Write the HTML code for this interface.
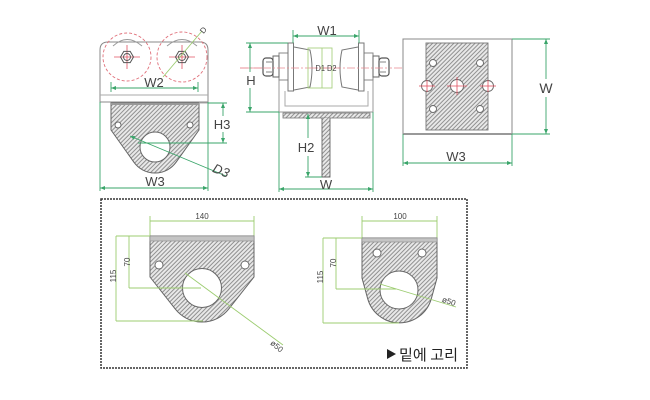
<!DOCTYPE html>
<html>
<head>
<meta charset="utf-8">
<style>
html,body{margin:0;padding:0;background:#fff;}
svg{display:block;}
text{font-family:"Liberation Sans","Noto Sans CJK KR",sans-serif;fill:#444;}
</style>
</head>
<body>
<svg width="650" height="400" viewBox="0 0 650 400" xmlns="http://www.w3.org/2000/svg">
<defs>
  <pattern id="h" width="3" height="3" patternUnits="userSpaceOnUse" patternTransform="rotate(45)">
    <rect width="3" height="3" fill="#e8e8e8"/>
    <line x1="0.5" y1="0" x2="0.5" y2="3" stroke="#868686" stroke-width="0.9"/>
  </pattern>
  <marker id="a" markerWidth="5" markerHeight="4" refX="5" refY="2" orient="auto-start-reverse" markerUnits="userSpaceOnUse">
    <path d="M0,0 L5,2 L0,4 Z" fill="#3aa56a"/>
  </marker>
</defs>

<!-- ================= TOP-LEFT VIEW ================= -->
<g fill="none" stroke-linecap="butt">
  <path d="M100,102 L100,50 Q100,42 108,42 L200,42 Q208,42 208,50 L208,102 Z" stroke="#8a8a8a" stroke-width="1"/>
  <line x1="100" y1="95" x2="208" y2="95" stroke="#aaa" stroke-width="1"/>
  <path d="M113,46 Q127,33 142,46" stroke="#999" stroke-width="1"/>
  <path d="M167,46 Q182,33 197,46" stroke="#999" stroke-width="1"/>
  <circle cx="127" cy="57" r="24" stroke="#e0707a" stroke-width="0.9" stroke-dasharray="3 2"/>
  <circle cx="182" cy="57" r="25" stroke="#e0707a" stroke-width="0.9" stroke-dasharray="3 2"/>
  <line x1="114" y1="57" x2="140" y2="57" stroke="#e05060" stroke-width="0.8"/>
  <line x1="127" y1="45" x2="127" y2="69" stroke="#e05060" stroke-width="0.8"/>
  <line x1="169" y1="57" x2="195" y2="57" stroke="#e05060" stroke-width="0.8"/>
  <line x1="182" y1="45" x2="182" y2="69" stroke="#e05060" stroke-width="0.8"/>
  <polygon points="133.5,57 130.2,62.6 123.8,62.6 120.5,57 123.8,51.4 130.2,51.4" stroke="#555" stroke-width="1"/>
  <circle cx="127" cy="57" r="3.5" stroke="#555" stroke-width="0.9"/>
  <polygon points="188.5,57 185.2,62.6 178.8,62.6 175.5,57 178.8,51.4 185.2,51.4" stroke="#555" stroke-width="1"/>
  <circle cx="182" cy="57" r="3.5" stroke="#555" stroke-width="0.9"/>
  <line x1="163" y1="77" x2="202" y2="31" stroke="#9ccc70" stroke-width="0.9"/>
  <line x1="111" y1="82" x2="111" y2="92" stroke="#3aa56a" stroke-width="0.9"/>
  <line x1="198" y1="82" x2="198" y2="92" stroke="#3aa56a" stroke-width="0.9"/>
  <line x1="111" y1="88" x2="198" y2="88" stroke="#3aa56a" stroke-width="0.9" marker-start="url(#a)" marker-end="url(#a)"/>
  <path d="M111,103 L199,103 L199,130 L176.2,162.1 A26,26 0 0 1 133.8,162.1 L111,130 Z" fill="url(#h)" stroke="#666" stroke-width="1"/>
  <line x1="111" y1="104" x2="199" y2="104" stroke="#999" stroke-width="2"/>
  <circle cx="155" cy="147" r="15" fill="#fff" stroke="#666" stroke-width="1"/>
  <circle cx="118" cy="125" r="3" fill="#fff" stroke="#666" stroke-width="0.9"/>
  <circle cx="190" cy="125" r="3" fill="#fff" stroke="#666" stroke-width="0.9"/>
  <line x1="199" y1="103" x2="208" y2="103" stroke="#aaa" stroke-width="1"/>
  <line x1="208" y1="103" x2="227" y2="103" stroke="#3aa56a" stroke-width="0.9"/>
  <line x1="138" y1="143" x2="227" y2="143" stroke="#3aa56a" stroke-width="0.9"/>
  <line x1="223" y1="103" x2="223" y2="116" stroke="#3aa56a" stroke-width="0.9" marker-start="url(#a)"/>
  <line x1="223" y1="132" x2="223" y2="143" stroke="#3aa56a" stroke-width="0.9" marker-end="url(#a)"/>
  <line x1="130" y1="136" x2="226" y2="176" stroke="#3aa56a" stroke-width="0.9" marker-start="url(#a)"/>
  <line x1="100" y1="102" x2="100" y2="191" stroke="#3aa56a" stroke-width="0.9"/>
  <line x1="208" y1="102" x2="208" y2="191" stroke="#3aa56a" stroke-width="0.9"/>
  <line x1="100" y1="188" x2="208" y2="188" stroke="#3aa56a" stroke-width="0.9" marker-start="url(#a)" marker-end="url(#a)"/>
</g>
<text x="154" y="87" font-size="13" text-anchor="middle">W2</text>
<text x="222" y="129" font-size="13" text-anchor="middle">H3</text>
<text x="155" y="186" font-size="13" text-anchor="middle">W3</text>
<text x="221" y="175" font-size="13" font-style="italic" text-anchor="middle" transform="rotate(22 221 171)">D3</text>
<text x="203" y="33" font-size="8" text-anchor="middle" transform="rotate(-50 203 30)">D</text>

<!-- ================= TOP-MIDDLE VIEW ================= -->
<g fill="none">
  <line x1="240" y1="68" x2="402" y2="68" stroke="#e88890" stroke-width="0.8" stroke-dasharray="8 2 2 2"/>
  <path d="M279,80 L279,112 L373,112 L373,80" stroke="#999" stroke-width="1"/>
  <path d="M285,91 L285,106 L368,106 L368,91" stroke="#aaa" stroke-width="1"/>
  <rect x="279" y="53" width="9" height="27" stroke="#888" stroke-width="1" fill="#fff"/>
  <rect x="364" y="53" width="9" height="27" stroke="#888" stroke-width="1" fill="#fff"/>
  <rect x="288" y="43" width="5.5" height="48" stroke="#777" stroke-width="1" fill="#fff"/>
  <rect x="358.5" y="43" width="5.5" height="48" stroke="#777" stroke-width="1" fill="#fff"/>
  <path d="M294,47 L310,50 Q314,68 310,87 L294,90" stroke="#777" stroke-width="1" fill="#fff"/>
  <path d="M358,47 L342,50 Q338,68 342,87 L358,90" stroke="#777" stroke-width="1" fill="#fff"/>
  <rect x="273" y="56" width="6" height="21" stroke="#666" stroke-width="1" fill="#fff"/>
  <rect x="263" y="58" width="10" height="18" rx="3" stroke="#555" stroke-width="1.2" fill="#fff"/>
  <line x1="266" y1="62" x2="272" y2="62" stroke="#666" stroke-width="0.8"/>
  <line x1="266" y1="72" x2="272" y2="72" stroke="#666" stroke-width="0.8"/>
  <rect x="373" y="56" width="6" height="21" stroke="#666" stroke-width="1" fill="#fff"/>
  <rect x="379" y="58" width="10" height="18" rx="3" stroke="#555" stroke-width="1.2" fill="#fff"/>
  <line x1="380" y1="62" x2="386" y2="62" stroke="#666" stroke-width="0.8"/>
  <line x1="380" y1="72" x2="386" y2="72" stroke="#666" stroke-width="0.8"/>
  <line x1="240" y1="68" x2="262" y2="68" stroke="#e88890" stroke-width="0.8"/>
  <line x1="263" y1="68" x2="389" y2="68" stroke="#e88890" stroke-width="0.7" stroke-dasharray="8 2 2 2"/>
  <rect x="308" y="48" width="24" height="40" stroke="#a8d080" stroke-width="0.9"/>
  <line x1="322" y1="48" x2="322" y2="88" stroke="#a8d080" stroke-width="0.9"/>
  <line x1="293" y1="30" x2="293" y2="43" stroke="#3aa56a" stroke-width="0.9"/>
  <line x1="359" y1="30" x2="359" y2="43" stroke="#3aa56a" stroke-width="0.9"/>
  <line x1="293" y1="36" x2="359" y2="36" stroke="#3aa56a" stroke-width="0.9" marker-start="url(#a)" marker-end="url(#a)"/>
  <line x1="246" y1="43" x2="288" y2="43" stroke="#3aa56a" stroke-width="0.9"/>
  <line x1="246" y1="112" x2="279" y2="112" stroke="#3aa56a" stroke-width="0.9"/>
  <line x1="250" y1="43" x2="250" y2="72" stroke="#3aa56a" stroke-width="0.9" marker-start="url(#a)"/>
  <line x1="250" y1="88" x2="250" y2="112" stroke="#3aa56a" stroke-width="0.9" marker-end="url(#a)"/>
  <rect x="283" y="113" width="87" height="5" fill="url(#h)" stroke="#777" stroke-width="0.8"/>
  <path d="M322,118 L322,177 L330,177 L330,118" fill="url(#h)" stroke="#666" stroke-width="0.9"/>
  <line x1="308" y1="114" x2="308" y2="138" stroke="#3aa56a" stroke-width="0.9" marker-start="url(#a)"/>
  <line x1="308" y1="156" x2="308" y2="177" stroke="#3aa56a" stroke-width="0.9" marker-end="url(#a)"/>
  <line x1="305" y1="177" x2="322" y2="177" stroke="#3aa56a" stroke-width="0.9"/>
  <line x1="279" y1="112" x2="279" y2="192" stroke="#3aa56a" stroke-width="0.9"/>
  <line x1="373" y1="112" x2="373" y2="192" stroke="#3aa56a" stroke-width="0.9"/>
  <line x1="279" y1="189" x2="373" y2="189" stroke="#3aa56a" stroke-width="0.9" marker-start="url(#a)" marker-end="url(#a)"/>
</g>
<text x="327" y="35" font-size="13" text-anchor="middle">W1</text>
<text x="251" y="85" font-size="13" text-anchor="middle">H</text>
<text x="306" y="152" font-size="13" text-anchor="middle">H2</text>
<text x="326" y="189" font-size="13" text-anchor="middle">W</text>
<text x="326" y="71" font-size="8.5" text-anchor="middle" textLength="21" lengthAdjust="spacingAndGlyphs">D1 D2</text>

<!-- ================= TOP-RIGHT VIEW ================= -->
<g fill="none">
  <rect x="403" y="39" width="109" height="95" stroke="#888" stroke-width="1"/>
  <line x1="403" y1="134" x2="512" y2="134" stroke="#999" stroke-width="2"/>
  <rect x="426" y="43" width="62" height="87" fill="url(#h)" stroke="#777" stroke-width="0.9"/>
  <circle cx="433" cy="63" r="3.5" fill="#fff" stroke="#666" stroke-width="0.9"/>
  <circle cx="480" cy="63" r="3.5" fill="#fff" stroke="#666" stroke-width="0.9"/>
  <circle cx="433" cy="109" r="3.5" fill="#fff" stroke="#666" stroke-width="0.9"/>
  <circle cx="480" cy="109" r="3.5" fill="#fff" stroke="#666" stroke-width="0.9"/>
  <circle cx="427" cy="86" r="5.5" fill="#fff" stroke="#666" stroke-width="0.9"/>
  <circle cx="488" cy="86" r="5.5" fill="#fff" stroke="#666" stroke-width="0.9"/>
  <circle cx="457" cy="86" r="6.5" fill="#fff" stroke="#666" stroke-width="0.9"/>
  <g stroke="#e05060" stroke-width="0.8">
    <line x1="419" y1="86" x2="435" y2="86"/><line x1="427" y1="80" x2="427" y2="92"/>
    <line x1="480" y1="86" x2="496" y2="86"/><line x1="488" y1="80" x2="488" y2="92"/>
    <line x1="447" y1="86" x2="467" y2="86"/><line x1="457" y1="77" x2="457" y2="95"/>
  </g>
  <line x1="512" y1="39" x2="550" y2="39" stroke="#3aa56a" stroke-width="0.9"/>
  <line x1="512" y1="134" x2="550" y2="134" stroke="#3aa56a" stroke-width="0.9"/>
  <line x1="546" y1="39" x2="546" y2="79" stroke="#3aa56a" stroke-width="0.9" marker-start="url(#a)"/>
  <line x1="546" y1="97" x2="546" y2="134" stroke="#3aa56a" stroke-width="0.9" marker-end="url(#a)"/>
  <line x1="403" y1="134" x2="403" y2="166" stroke="#3aa56a" stroke-width="0.9"/>
  <line x1="512" y1="134" x2="512" y2="166" stroke="#3aa56a" stroke-width="0.9"/>
  <line x1="403" y1="163" x2="512" y2="163" stroke="#3aa56a" stroke-width="0.9" marker-start="url(#a)" marker-end="url(#a)"/>
</g>
<text x="546" y="93" font-size="14" text-anchor="middle">W</text>
<text x="456" y="161" font-size="13" text-anchor="middle">W3</text>

<!-- ================= DASHED BOX ================= -->
<rect x="101" y="199" width="366" height="169" fill="none" stroke="#333" stroke-width="1.5" stroke-dasharray="2 1"/>

<!-- ================= BOTTOM-LEFT LUG ================= -->
<g fill="none">
  <line x1="150" y1="216" x2="150" y2="236" stroke="#9ccc70" stroke-width="0.9"/>
  <line x1="254" y1="216" x2="254" y2="236" stroke="#9ccc70" stroke-width="0.9"/>
  <line x1="150" y1="221" x2="254" y2="221" stroke="#9ccc70" stroke-width="0.9"/>
  <path d="M150,236 L254,236 L254,277 L228.7,309.1 A34,34 0 0 1 175.3,309.1 L150,277 Z" fill="url(#h)" stroke="#666" stroke-width="1"/>
  <rect x="150" y="236" width="104" height="5" fill="#c4c4c4" stroke="#888" stroke-width="0.6"/>
  <circle cx="202" cy="288" r="19.5" fill="#fff" stroke="#666" stroke-width="1"/>
  <circle cx="159" cy="265" r="4" fill="#fff" stroke="#666" stroke-width="0.9"/>
  <circle cx="245" cy="265" r="4" fill="#fff" stroke="#666" stroke-width="0.9"/>
  <line x1="116" y1="236" x2="150" y2="236" stroke="#9ccc70" stroke-width="0.9"/>
  <line x1="116" y1="236" x2="116" y2="321" stroke="#9ccc70" stroke-width="0.9"/>
  <line x1="116" y1="321" x2="203" y2="321" stroke="#9ccc70" stroke-width="0.9"/>
  <line x1="129" y1="236" x2="129" y2="288" stroke="#9ccc70" stroke-width="0.9"/>
  <line x1="129" y1="288" x2="201" y2="288" stroke="#9ccc70" stroke-width="0.9"/>
  <line x1="185" y1="273" x2="283" y2="345" stroke="#9ccc70" stroke-width="0.9"/>
</g>
<text x="202" y="219" font-size="8" text-anchor="middle">140</text>
<text x="127" y="265" font-size="8" text-anchor="middle" transform="rotate(-90 127 262)">70</text>
<text x="113" y="279" font-size="8" text-anchor="middle" transform="rotate(-90 113 276)">115</text>
<text x="277" y="349" font-size="8" text-anchor="middle" transform="rotate(40 277 346)">ø50</text>

<!-- ================= BOTTOM-MIDDLE LUG ================= -->
<g fill="none">
  <line x1="362" y1="216" x2="362" y2="238" stroke="#9ccc70" stroke-width="0.9"/>
  <line x1="437" y1="216" x2="437" y2="238" stroke="#9ccc70" stroke-width="0.9"/>
  <line x1="362" y1="221" x2="437" y2="221" stroke="#9ccc70" stroke-width="0.9"/>
  <path d="M362,238 L437,238 L437,278 L431.3,298.7 A33,33 0 0 1 367.7,298.7 L362,278 Z" fill="url(#h)" stroke="#666" stroke-width="1"/>
  <rect x="362" y="238" width="75" height="4" fill="#c4c4c4" stroke="#888" stroke-width="0.6"/>
  <circle cx="399" cy="290" r="19" fill="#fff" stroke="#666" stroke-width="1"/>
  <circle cx="377" cy="253" r="4" fill="#fff" stroke="#666" stroke-width="0.9"/>
  <circle cx="422" cy="253" r="4" fill="#fff" stroke="#666" stroke-width="0.9"/>
  <line x1="323" y1="238" x2="362" y2="238" stroke="#9ccc70" stroke-width="0.9"/>
  <line x1="323" y1="238" x2="323" y2="323" stroke="#9ccc70" stroke-width="0.9"/>
  <line x1="323" y1="323" x2="399" y2="323" stroke="#9ccc70" stroke-width="0.9"/>
  <line x1="336" y1="238" x2="336" y2="289" stroke="#9ccc70" stroke-width="0.9"/>
  <line x1="336" y1="289" x2="396" y2="289" stroke="#9ccc70" stroke-width="0.9"/>
  <line x1="380" y1="284" x2="456" y2="307" stroke="#9ccc70" stroke-width="0.9"/>
</g>
<text x="400" y="219" font-size="8" text-anchor="middle">100</text>
<text x="333" y="266" font-size="8" text-anchor="middle" transform="rotate(-90 333 263)">70</text>
<text x="320" y="280" font-size="8" text-anchor="middle" transform="rotate(-90 320 277)">115</text>
<text x="449" y="304" font-size="8" text-anchor="middle" transform="rotate(18 449 301)">ø50</text>

<polygon points="387,349 387,359 396,354" fill="#222"/>
<text x="399" y="360" font-size="15" textLength="59" lengthAdjust="spacingAndGlyphs" style="fill:#222;font-family:'Noto Sans CJK KR','NanumGothic',sans-serif;">밑에 고리</text>
</svg>
</body>
</html>
